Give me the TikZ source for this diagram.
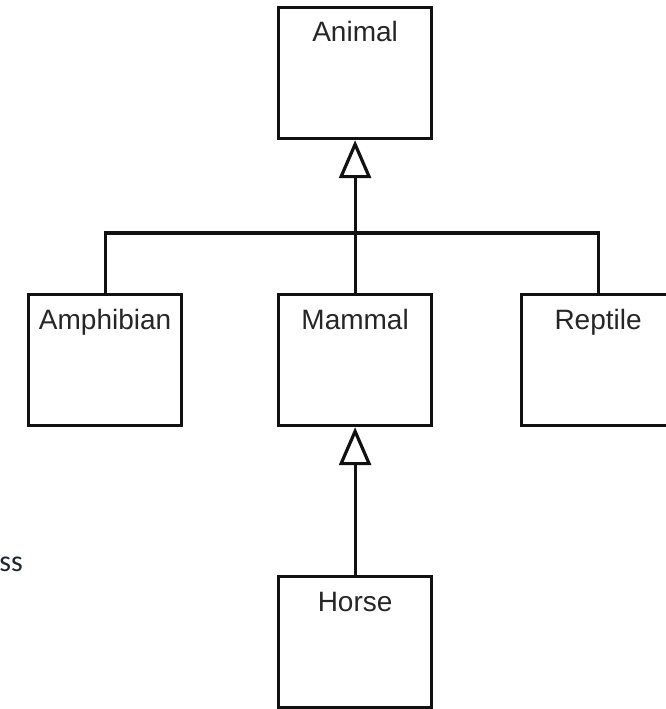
\documentclass[tikz,border=0pt]{standalone}
\usepackage{fontspec}
\setmainfont{Liberation Sans}
\newfontfamily\notefont{Carlito}
\usetikzlibrary{arrows.meta}
\definecolor{edgeink}{HTML}{111111}
\definecolor{nameink}{HTML}{262626}
\definecolor{noteink}{HTML}{1C2436}
\tikzset{
  classbox/.style={draw=edgeink, line width=3.2pt, fill=white, rectangle,
    minimum width=153pt, minimum height=131pt, inner sep=0pt, anchor=north west},
  classname/.style={text=nameink, inner sep=0pt, anchor=base,
    font=\fontsize{28}{33}\selectfont},
  link/.style={draw=edgeink, line width=3.2pt},
  inherits/.style={link, -{Triangle[open, length=38pt, width=32pt, line width=3.2pt]}},
}
\begin{document}
\begin{tikzpicture}[x=1pt, y=-1pt]
  \useasboundingbox (0,0) rectangle (666,709);
  \clip (0,0) rectangle (666,709);

  % class boxes
  \node[classbox] (animal)    at (277,6)   {};
  \node[classbox] (amphibian) at (27,293)  {};
  \node[classbox] (mammal)    at (277,293) {};
  \node[classbox] (reptile)   at (520,293) {};
  \node[classbox] (horse)     at (277,575) {};

  % class names
  \node[classname] (animalname)    at ([yshift=-36pt]animal.north)    {Animal};
  \node[classname] (amphibianname) at ([yshift=-36pt]amphibian.north) {Amphibian};
  \node[classname] (mammalname)    at ([yshift=-36pt]mammal.north)    {Mammal};
  \node[classname] (reptilename)   at ([yshift=-36pt]reptile.north)   {Reptile};
  \node[classname] (horsename)     at ([yshift=-36pt]horse.north)     {Horse};

  % generalisation: Amphibian, Mammal, Reptile -> Animal
  \draw[link] (amphibian.north) -- ++(0,-60) coordinate (busleft) -| (reptile.north);
  \draw[inherits] (mammal.north) -- (animal.south);

  % generalisation: Horse -> Mammal
  \draw[inherits] (horse.north) -- (mammal.south);

  % fragment of surrounding text
  \node[text=noteink, inner sep=0pt, anchor=base east,
        font=\notefont\fontsize{30}{36}\selectfont] (note) at (23,571) {ss};
\end{tikzpicture}
\end{document}
